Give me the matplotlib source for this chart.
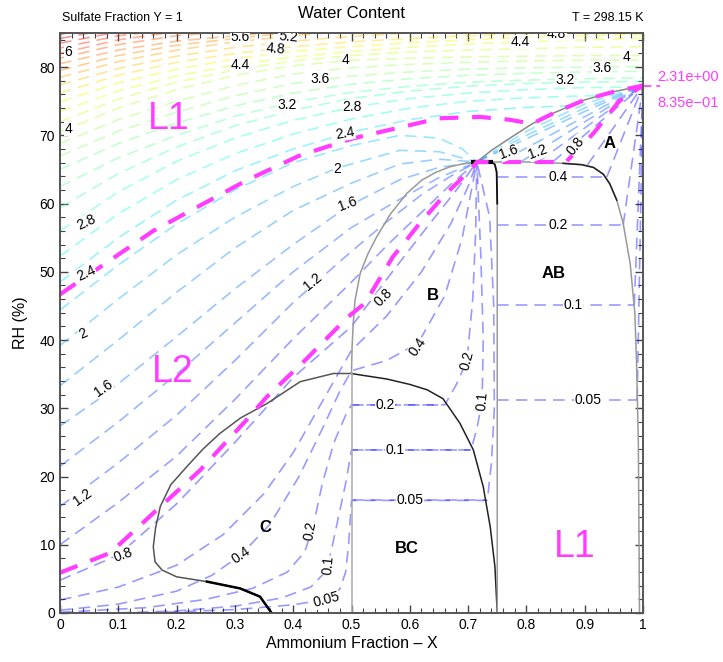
import matplotlib
matplotlib.use('Agg')
import matplotlib.pyplot as plt
from matplotlib.patches import Polygon
from matplotlib.ticker import MultipleLocator, FuncFormatter

plt.rcParams['font.family'] = ['Liberation Sans', 'DejaVu Sans']

MAGENTA = '#ff3cff'

# triple point where the low contours meet, and the right-hand convergence point
K = (0.715, 66.1)
P = (1.0, 77.3)

# upper liquid contours: RH (%) at each x column
x_cols = [0, 0.1, 0.2, 0.3, 0.4, 0.5, 0.6, 0.7, 0.8, 0.9, 1.0]
upper_levels = [2.4, 2.6, 2.8, 3.0, 3.2, 3.4, 3.6, 3.8, 4.0, 4.2, 4.4, 4.6, 4.8,
                5.0, 5.2, 5.4, 5.6, 5.8, 6.0, 6.2, 6.4, 6.6, 6.8, 7.0]
upper_rh = [
    [48.5, 55.0, 60.5, 64.8, 68.0, 70.5, 72.3, 73.5, 74.1, 74.4, 74.6],
    [52.3, 58.5, 63.5, 67.3, 70.2, 72.4, 74.0, 75.0, 75.5, 75.8, 76.0],
    [56.0, 61.7, 66.2, 69.6, 72.2, 74.1, 75.4, 76.2, 76.7, 77.0, 77.1],
    [59.4, 64.4, 68.3, 71.4, 73.7, 75.4, 76.5, 77.2, 77.6, 77.8, 77.9],
    [62.5, 66.7, 70.0, 72.8, 74.9, 76.3, 77.2, 77.8, 78.1, 78.3, 78.4],
    [65.0, 68.8, 71.8, 74.3, 76.2, 77.5, 78.3, 78.8, 79.1, 79.3, 79.4],
    [67.0, 70.6, 73.4, 75.8, 77.6, 78.7, 79.3, 79.7, 79.9, 80.0, 80.1],
    [68.8, 72.3, 75.0, 77.3, 79.0, 79.9, 80.4, 80.7, 80.9, 81.0, 81.0],
    [70.5, 74.0, 76.7, 78.8, 80.2, 81.0, 81.3, 81.5, 81.6, 81.7, 81.7],
    [72.0, 75.3, 77.8, 79.6, 80.9, 81.7, 82.2, 82.5, 82.7, 82.9, 83.0],
    [73.5, 76.5, 78.7, 80.3, 81.5, 82.3, 82.9, 83.4, 83.7, 84.0, 84.2],
    [74.9, 77.7, 79.7, 81.2, 82.3, 83.0, 83.6, 84.0, 84.4, 84.6, 84.8],
    [76.2, 78.8, 80.7, 82.0, 83.0, 83.7, 84.2, 84.6, 84.9, 85.1, 85.3],
    [77.4, 79.8, 81.6, 82.9, 83.8, 84.5, 85.0, 85.4, 85.7, 85.9, 86.0],
    [78.5, 80.8, 82.5, 83.7, 84.6, 85.3, 85.8, 86.2],
    [79.5, 81.7, 83.2, 84.2, 85.1, 85.8, 86.3],
    [80.5, 82.5, 83.8, 84.6, 85.3, 86.0],
    [81.3, 83.3, 84.6, 85.3, 86.0],
    [82.0, 84.0, 85.2, 86.0],
    [82.8, 84.6, 85.6],
    [83.5, 85.2, 86.2],
    [84.2, 85.8],
    [84.8, 86.3],
    [85.4, 86.8],
]

# contours that run into K from the liquid / B / C side
fan_levels = [0.05, 0.1, 0.2, 0.4, 0.6, 0.8, 1.0, 1.2, 1.4, 1.6, 1.8, 2.0, 2.2]
fan_x = [
    [0.15, 0.3, 0.4, 0.457, 0.48, 0.49, 0.495, 0.5, 0.733, 0.74, 0.745, 0.744, 0.737],
    [0.1, 0.2, 0.3, 0.38, 0.43, 0.455, 0.465, 0.475, 0.49, 0.5, 0.705, 0.715, 0.724, 0.726, 0.722],
    [0.0, 0.15, 0.25, 0.33, 0.39, 0.42, 0.435, 0.45, 0.47, 0.49, 0.5, 0.66, 0.68, 0.698, 0.708, 0.713],
    [0.0, 0.1, 0.2, 0.26, 0.31, 0.36, 0.41, 0.45, 0.48, 0.5, 0.56, 0.614, 0.66, 0.69],
    [0.0, 0.1, 0.2, 0.28, 0.35, 0.4, 0.44, 0.47, 0.5, 0.56, 0.62, 0.67, 0.7],
    [0.0, 0.1, 0.2, 0.3, 0.4, 0.5, 0.57, 0.62, 0.68],
    [0.0, 0.1, 0.2, 0.3, 0.4, 0.5, 0.56, 0.62, 0.67],
    [0.0, 0.1, 0.2, 0.3, 0.4, 0.5, 0.56, 0.62, 0.67],
    [0.0, 0.1, 0.2, 0.3, 0.4, 0.5, 0.58, 0.65],
    [0.0, 0.074, 0.2, 0.3, 0.4, 0.494, 0.583, 0.65],
    [0.0, 0.1, 0.2, 0.3, 0.4, 0.5, 0.583, 0.65],
    [0.0, 0.1, 0.2, 0.3, 0.4, 0.475, 0.583, 0.65],
    [0.0, 0.1, 0.2, 0.3, 0.4, 0.5, 0.583, 0.65, 0.69],
]
fan_rh = [
    [0.02, 0.5, 1.2, 2.0, 3.5, 6.0, 10.0, 16.5, 16.5, 22.0, 30.0, 45.0, 58.0],
    [0.02, 0.3, 1.0, 2.2, 3.8, 6.0, 9.0, 13.0, 19.0, 23.9, 23.9, 27.0, 31.0, 40.0, 52.0],
    [0.1, 0.8, 2.0, 3.6, 6.0, 9.0, 13.0, 19.0, 25.0, 29.0, 30.5, 30.5, 33.5, 37.0, 46.0, 56.0],
    [0.4, 1.3, 3.2, 5.5, 8.5, 13.0, 20.0, 27.0, 32.5, 35.5, 37.0, 39.5, 46.5, 55.0],
    [1.9, 3.8, 7.0, 11.5, 17.5, 23.5, 29.5, 34.0, 38.5, 43.5, 50.0, 57.0, 62.5],
    [4.8, 8.5, 16.0, 25.0, 34.5, 42.0, 50.0, 55.5, 62.0],
    [10.0, 16.2, 23.0, 31.3, 40.2, 48.5, 53.8, 58.7, 62.8],
    [15.6, 22.0, 29.0, 37.0, 45.5, 53.0, 57.3, 61.3, 64.0],
    [21.5, 28.0, 35.0, 42.5, 50.0, 56.5, 60.5, 63.8],
    [27.4, 31.8, 40.5, 47.5, 54.0, 59.6, 63.5, 65.3],
    [33.3, 40.0, 47.0, 53.5, 59.0, 63.0, 65.8, 66.5],
    [39.2, 46.0, 52.5, 58.0, 62.5, 65.2, 67.8, 67.6],
    [44.4, 51.0, 57.0, 62.0, 66.0, 68.5, 70.0, 69.6, 68.0],
]

# contours inside the A field, running up to P
a_levels = [2.2, 2.0, 1.8, 1.6, 1.4, 1.2, 1.0, 0.6, 0.4, 0.2, 0.1, 0.05]
a_x = [[0.715, 0.8, 0.9], [0.715, 0.8, 0.9], [0.715, 0.8, 0.9], [0.755], [0.79], [0.82],
       [0.845], [0.905], [0.938], [0.966], [0.985], [0.99]]
a_rh = [[66.1, 70.6, 74.6], [66.1, 70.0, 74.0], [66.1, 69.5, 73.5], [66.1], [66.1], [66.1],
        [66.1], [65.7], [63.9], [56.9], [45.1], [31.2]]

# horizontal contours in the AB and BC fields
ab_levels = [0.4, 0.2, 0.1, 0.05]
ab_rh = [63.9, 56.9, 45.1, 31.2]
ab_xend = [0.938, 0.966, 0.985, 0.99]
bc_levels = [0.2, 0.1, 0.05]
bc_rh = [30.5, 23.9, 16.5]
bc_xend = [0.66, 0.705, 0.733]

# the two highlighted contours
mag_hi_x = [0, 0.16, 0.32, 0.41, 0.5, 0.65, 0.72, 0.77, 0.81, 0.85, 0.9, 0.95, 1.0]
mag_hi_rh = [46.7, 56.0, 63.4, 67.0, 69.5, 72.5, 72.7, 72.3, 71.7, 73.4, 75.2, 76.4, 77.3]
mag_lo_x = [0, 0.086, 0.166, 0.24, 0.32, 0.355, 0.42, 0.494, 0.523, 0.571, 0.617, 0.657,
            0.708, 0.715, 0.868, 0.915, 0.96, 1.0]
mag_lo_rh = [5.9, 8.8, 15.1, 20.9, 28.3, 31.7, 37.0, 43.4, 45.4, 52.2, 57.1, 61.0,
             65.3, 66.1, 66.1, 70.3, 75.1, 77.3]

# phase boundaries
c_arc_x = [0.363, 0.343, 0.309, 0.252, 0.2, 0.175, 0.163, 0.16, 0.164, 0.172, 0.19,
           0.217, 0.245, 0.274, 0.31, 0.355, 0.412, 0.469, 0.5]
c_arc_rh = [0.0, 2.4, 3.6, 4.6, 5.3, 6.3, 7.5, 9.7, 12.5, 15.6, 18.8, 21.4, 24.0,
            26.3, 28.6, 30.7, 33.9, 35.1, 35.1]
bc_arc_x = [0.5, 0.514, 0.56, 0.6, 0.63, 0.657, 0.686, 0.709, 0.726, 0.738, 0.746, 0.75]
bc_arc_rh = [35.1, 34.9, 34.3, 33.5, 32.7, 31.4, 27.8, 23.9, 18.5, 12.6, 6.8, 0.0]
b_arc_x = [0.5, 0.501, 0.503, 0.506, 0.515, 0.528, 0.543, 0.567, 0.595, 0.62, 0.645,
           0.669, 0.695, 0.715]
b_arc_rh = [35.1, 39.0, 42.5, 45.8, 49.8, 52.6, 55.1, 58.5, 61.5, 63.4, 64.6, 65.4, 65.9, 66.1]
a_arc_x = [0.715, 0.74, 0.772, 0.81, 0.85, 0.9, 0.95, 1.0]
a_arc_rh = [66.1, 67.8, 69.6, 71.7, 73.4, 75.2, 76.4, 77.3]
x75_x = [0.75, 0.75, 0.749, 0.746, 0.742]
x75_rh = [0.0, 60.0, 64.6, 65.7, 66.1]
ab_curve_x = [0.742, 0.8, 0.863, 0.895, 0.915, 0.932, 0.943, 0.955, 0.966, 0.978, 0.986,
              0.989, 0.992, 0.994]
ab_curve_rh = [66.1, 66.1, 65.9, 65.7, 65.3, 64.3, 62.9, 60.5, 57.1, 51.2, 43.9, 36.6, 25.0, 0.0]

# contour labels
lab_text = ['6', '4', '2.8', '2.4', '2', '1.6', '1.2', '0.8', '5.6', '4.4', '4.8', '5.2',
            '3.6', '4', '3.2', '2.8', '2.4', '2', '1.6', '1.2', '0.8', '0.4', '0.2', '0.1',
            '4.4', '4.8', '3.2', '3.6', '4', '1.6', '1.2', '0.8',
            '0.4', '0.2', '0.1', '0.05', '0.2', '0.1', '0.05',
            '0.4', '0.2', '0.1', '0.05']
lab_x = [0.014, 0.014, 0.045, 0.045, 0.04, 0.074, 0.038, 0.108, 0.309, 0.309, 0.369, 0.391,
         0.446, 0.489, 0.389, 0.5, 0.489, 0.475, 0.494, 0.434, 0.554, 0.614, 0.698, 0.724,
         0.789, 0.852, 0.866, 0.929, 0.972, 0.77, 0.82, 0.885,
         0.854, 0.854, 0.88, 0.906, 0.557, 0.575, 0.6,
         0.31, 0.43, 0.46, 0.457]
lab_rh = [82.2, 71.0, 57.3, 49.8, 41.0, 32.9, 17.0, 8.5, 84.4, 80.3, 82.7, 84.5,
          78.3, 81.0, 74.4, 74.1, 70.3, 65.1, 60.0, 48.5, 46.3, 39.0, 37.0, 31.0,
          83.7, 84.9, 78.1, 79.8, 81.5, 67.5, 67.5, 68.5,
          63.9, 56.9, 45.1, 31.2, 30.5, 23.9, 16.5,
          8.5, 12.0, 7.0, 1.9]
lab_rot = [0, 0, 25, 25, 25, 35, 35, 20, 0, 0, -5, -5,
           0, 0, 0, 0, 10, 0, 20, 40, 45, 55, 75, 85,
           0, 0, 0, 0, 0, 20, 20, 50,
           0, 0, 0, 0, 0, 0, 0,
           35, 80, 85, 15]

cmap = plt.get_cmap('jet')


def level_color(level):
    return cmap(max(0.11, 0.12 + 0.14 * (level - 0.8)))


fig = plt.figure(figsize=(7.23, 6.62), dpi=100)
ax = fig.add_axes([60 / 723, 1 - 613 / 662, 583 / 723, 580 / 662])
ax.set_xlim(0, 1)
ax.set_ylim(0, 85)

dash = (0, (7, 4.2))
kw = dict(lw=1.2, ls=dash, alpha=0.4)

# region above the L/A boundary, used to trim the upper contours
clip = Polygon([(-0.01, -1), (K[0], -1), *zip(a_arc_x, a_arc_rh), (1.01, P[1]), (1.01, 86),
                (-0.01, 86)], closed=True, transform=ax.transData)

for lev, rh in zip(upper_levels, upper_rh):
    line, = ax.plot(x_cols[:len(rh)], rh, color=level_color(lev), **kw)
    line.set_clip_path(clip)

for lev, xs, ys in zip(fan_levels, fan_x, fan_rh):
    ax.plot(xs + [K[0]], ys + [K[1]], color=level_color(lev), **kw)

for lev, xs, ys in zip(a_levels, a_x, a_rh):
    ax.plot(xs + [P[0]], ys + [P[1]], color=level_color(lev), **kw)

for lev, y, xe in zip(ab_levels, ab_rh, ab_xend):
    ax.plot([0.75, xe], [y, y], color=level_color(lev), **kw)
for lev, y, xe in zip(bc_levels, bc_rh, bc_xend):
    ax.plot([0.5, xe], [y, y], color=level_color(lev), **kw)

# phase boundaries
ax.plot(c_arc_x, c_arc_rh, color='#555555', lw=1.1)
ax.plot(c_arc_x[:4], c_arc_rh[:4], color='black', lw=1.8)
ax.plot(bc_arc_x, bc_arc_rh, color='#222222', lw=1.1)
ax.plot(b_arc_x, b_arc_rh, color='#999999', lw=1.1)
ax.plot(a_arc_x, a_arc_rh, color='#888888', lw=1.1)
ax.plot([0.5, 0.5], [0, 35.1], color='#aaaaaa', lw=1.1)
ax.plot(x75_x, x75_rh, color='#999999', lw=1.1)
ax.plot(x75_x[1:], x75_rh[1:], color='#111111', lw=1.3)
ax.plot(ab_curve_x, ab_curve_rh, color='#999999', lw=1.1)
ax.plot(ab_curve_x[2:8], ab_curve_rh[2:8], color='#222222', lw=1.1)
ax.plot([0.705, 0.742], [66.1, 66.1], color='black', lw=3, solid_capstyle='butt')

# highlighted contours
mkw = dict(color=MAGENTA, lw=3, ls=(0, (4.5, 3.3)))
ax.plot(mag_hi_x, mag_hi_rh, **mkw)
ax.plot(mag_lo_x, mag_lo_rh, **mkw)
ax.plot([1.0, 1.03], [P[1], P[1]], color=MAGENTA, lw=1.2, ls=(0, (5, 3)), clip_on=False)
ax.text(1.025, 78.6, '2.31e+00', color=MAGENTA, fontsize=10.5, va='center', ha='left',
        clip_on=False)
ax.text(1.025, 74.8, '8.35e\u221201', color=MAGENTA, fontsize=10.5, va='center', ha='left',
        clip_on=False)

for s, x, y, r in zip(lab_text, lab_x, lab_rh, lab_rot):
    ax.text(x, y, s, fontsize=10, rotation=r, ha='center', va='center',
            rotation_mode='anchor', clip_on=True,
            bbox=dict(facecolor='white', edgecolor='none', pad=0.2))

# field names
for s, x, y in [('A', 0.942, 68.8), ('B', 0.64, 46.6), ('AB', 0.846, 49.7),
                ('C', 0.352, 12.6), ('BC', 0.595, 9.5)]:
    ax.text(x, y, s, fontsize=12, fontweight='bold', ha='center', va='center')
for s, x, y in [('L1', 0.187, 72.4), ('L2', 0.193, 35.3), ('L1', 0.883, 9.7)]:
    ax.text(x, y, s, fontsize=27, color=MAGENTA, ha='center', va='center')

ax.xaxis.set_major_locator(MultipleLocator(0.1))
ax.xaxis.set_minor_locator(MultipleLocator(0.02))
ax.yaxis.set_major_locator(MultipleLocator(10))
ax.yaxis.set_minor_locator(MultipleLocator(2))
ax.xaxis.set_major_formatter(FuncFormatter(lambda v, _: '%g' % round(v, 2)))
ax.tick_params(which='both', direction='in', top=True, right=True, colors='#444444',
               labelcolor='black', labelsize=10)
ax.tick_params(which='major', length=6, width=1)
ax.tick_params(which='minor', length=3.5, width=0.8)
for sp in ax.spines.values():
    sp.set_color('#555555')
    sp.set_linewidth(1.4)

ax.set_xlabel('Ammonium Fraction \u2013 X', fontsize=11.5, labelpad=3)
ax.set_ylabel('RH (%)', fontsize=11.5, labelpad=8)

fig.text(352 / 723, 1 - 14 / 662, 'Water Content', fontsize=12, ha='center', va='center')
fig.text(62 / 723, 1 - 18 / 662, 'Sulfate Fraction Y = 1', fontsize=9, ha='left', va='center')
fig.text(643 / 723, 1 - 18 / 662, 'T = 298.15 K', fontsize=9, ha='right', va='center')

fig.savefig('out.png', dpi=100)
